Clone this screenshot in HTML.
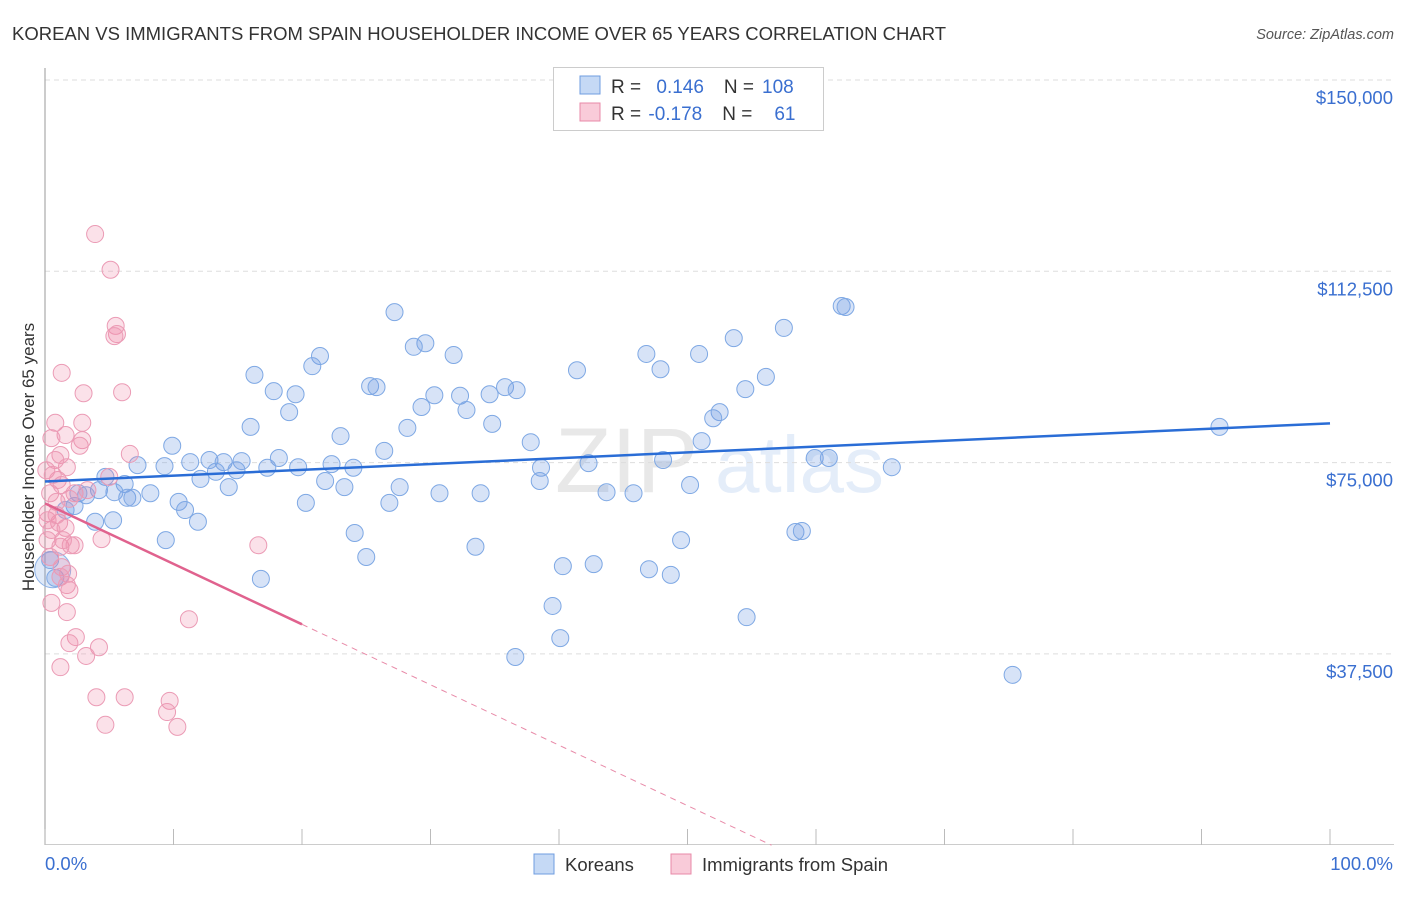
<!DOCTYPE html>
<html><head><meta charset="utf-8"><style>
body{margin:0;background:#fff;font-family:"Liberation Sans",sans-serif;}
svg text{font-family:"Liberation Sans",sans-serif;}
</style></head><body>
<svg id="chart" width="1406" height="892" viewBox="0 0 1406 892" xmlns="http://www.w3.org/2000/svg">
<text x="12" y="40" font-size="18.5" fill="#333">KOREAN VS IMMIGRANTS FROM SPAIN HOUSEHOLDER INCOME OVER 65 YEARS CORRELATION CHART</text>
<text x="1394" y="39" font-size="14.5" fill="#555" text-anchor="end" font-style="italic">Source: ZipAtlas.com</text>
<g opacity="0.13">
<text x="555" y="492" font-size="92" font-family="Liberation Serif" fill="#555">ZIP</text>
<text x="715" y="492" font-size="80" fill="#3b7ad8">atlas</text>
</g>
<g id="grid"></g>
<g id="axes"></g>
<g id="pts"></g>
<g id="trend"></g>
<text transform="translate(34,457) rotate(-90)" font-size="17" fill="#333" text-anchor="middle">Householder Income Over 65 years</text>
<g>
<rect x="553.5" y="67.5" width="270" height="63" fill="#fff" stroke="#ccc"/>
<rect x="580" y="76" width="20" height="18" fill="#c5d9f5" stroke="#6f9de0"/>
<rect x="580" y="103" width="20" height="18" fill="#f9cbd9" stroke="#e88aa8"/>
<text x="611" y="93" font-size="19" fill="#333">R = <tspan fill="#3a6fd0" dx="10">0.146</tspan><tspan fill="#333" dx="20">N =</tspan><tspan fill="#3a6fd0" dx="8">108</tspan></text>
<text x="611" y="120" font-size="19" fill="#333">R = <tspan fill="#3a6fd0" dx="2">-0.178</tspan><tspan fill="#333" dx="20">N =</tspan><tspan fill="#3a6fd0" dx="22">61</tspan></text>
</g>
<g>
<rect x="534" y="854" width="20" height="20" fill="#c5d9f5" stroke="#6f9de0"/>
<text x="565" y="871" font-size="18.5" fill="#333">Koreans</text>
<rect x="671" y="854" width="20" height="20" fill="#f9cbd9" stroke="#e88aa8"/>
<text x="702" y="871" font-size="18.5" fill="#333">Immigrants from Spain</text>
</g>
</svg>
<script>
const yTicks=[37500,75000,112500,150000];
const yTickLabels=["$37,500","$75,000","$112,500","$150,000"];
const xTickLabels=["0.0%","100.0%"];
const blueX=[27.2,62.0,62.3,57.5,53.6,29.6,28.7,31.8,21.4,46.8,50.9,20.8,47.9,41.4,56.1,16.3,25.3,25.8,35.8,36.7,17.8,19.5,30.3,32.3,34.6,54.5,29.3,32.8,19.0,52.5,52.0,91.4,34.8,28.2,16.0,23.0,9.9,37.8,51.1,26.4,59.9,61.0,48.1,7.2,9.3,11.3,12.8,13.9,15.3,18.2,17.3,19.7,22.3,24.0,38.6,42.3,65.9,13.3,14.9,12.1,14.3,4.7,6.2,4.2,3.2,2.6,5.4,6.4,8.2,21.8,23.3,27.6,38.5,50.2,30.7,33.9,43.7,45.8,20.3,26.8,10.4,10.9,2.3,1.6,6.8,3.9,5.3,11.9,24.1,49.5,58.4,58.9,9.4,33.5,25.0,40.3,42.7,47.0,48.7,16.8,39.5,54.6,40.1,36.6,75.3,0.8,0.4];
const blueY=[104.5,105.7,105.5,101.4,99.4,98.4,97.7,96.1,95.9,96.3,96.3,93.9,93.3,93.1,91.8,92.2,90.0,89.8,89.8,89.2,89.0,88.4,88.2,88.1,88.4,89.4,85.9,85.3,84.9,84.9,83.7,82.0,82.6,81.8,82.0,80.2,78.3,79.0,79.2,77.3,75.9,75.9,75.5,74.5,74.3,75.1,75.5,75.1,75.3,75.9,74.0,74.1,74.7,74.0,74.0,74.9,74.1,73.2,73.5,71.8,70.2,72.2,70.8,69.6,68.6,69.0,69.2,68.1,69.0,71.4,70.2,70.2,71.4,70.6,69.0,69.0,69.2,69.0,67.1,67.1,67.3,65.7,66.5,65.7,68.1,63.4,63.7,63.4,61.2,59.8,61.4,61.6,59.8,58.5,56.5,54.7,55.1,54.1,53.0,52.2,46.9,44.7,40.6,36.9,33.4,52.4,55.9];
const pinkX=[3.9,5.1,5.5,5.6,5.4,1.3,3.0,6.0,0.8,2.9,1.6,2.9,0.5,6.6,2.7,1.2,1.7,5.0,1.0,0.4,2.3,0.9,1.9,3.3,1.3,0.2,1.1,1.6,0.5,0.2,1.2,2.0,2.3,4.4,16.6,0.4,1.3,1.8,1.2,1.7,1.9,0.5,1.7,11.2,2.4,1.9,4.2,3.2,1.2,4.0,6.2,9.7,9.5,4.7,10.3,0.2,0.8,0.1,0.6,1.4,0.9];
const pinkY=[119.8,112.8,101.8,100.2,99.8,92.6,88.6,88.8,82.8,82.8,80.4,79.4,79.8,76.7,78.3,76.5,74.1,72.2,71.6,69.0,69.0,67.3,67.9,69.6,70.6,65.1,63.2,62.2,61.8,59.8,58.5,58.8,58.8,60.0,58.8,56.5,54.5,53.2,52.6,51.0,50.0,47.5,45.7,44.3,40.8,39.6,38.8,37.1,34.9,29.0,29.0,28.3,26.1,23.6,23.2,63.7,75.5,73.5,72.6,59.8,64.7];
const blueTrend=[71.3,82.7]; // values (k$) at x=0 and x=100
const pinkTrend=[67.0,43.3]; // values at x=0 and x=20 (solid range)
const pinkSolidEnd=20;

const NS="http://www.w3.org/2000/svg";
const X0=45,X1=1330,Y150=80,PX375=191.3;
function sx(p){return X0+(X1-X0)*p/100;}
function sy(k){return Y150+(150-k)/37.5*PX375;}
function mk(tag,attrs,parent){const e=document.createElementNS(NS,tag);for(const k in attrs)e.setAttribute(k,attrs[k]);parent.appendChild(e);return e;}
const grid=document.getElementById('grid'),axes=document.getElementById('axes');
yTicks.forEach((v,i)=>{
  const l=mk('line',{x1:X0,x2:1394,y1:sy(v/1000),y2:sy(v/1000),stroke:'#ddd','stroke-dasharray':'5,4'},grid);
  
  
  const t=mk('text',{x:1393,y:sy(v/1000)+24,'font-size':18.5,fill:'#3a6fd0','text-anchor':'end'},axes);
  t.textContent=yTickLabels[i];
  
  
});
mk('line',{x1:X0,x2:X0,y1:68,y2:845,stroke:'#aaa','stroke-width':1.2},axes);
mk('line',{x1:X0,x2:1394,y1:844.5,y2:844.5,stroke:'#ccc'},axes);
for(let i=0;i<=10;i++){const x=sx(i*10);mk('line',{x1:x,x2:x,y1:829,y2:845,stroke:'#bbb'},axes);}
const tl0=mk('text',{x:45,y:870,'font-size':18.5,fill:'#3a6fd0'},axes);tl0.textContent=xTickLabels[0];


const tl1=mk('text',{x:1393,y:870,'font-size':18.5,fill:'#3a6fd0','text-anchor':'end'},axes);tl1.textContent=xTickLabels[1];


const pts=document.getElementById('pts');
mk('circle',{cx:sx(0.6),cy:sy(54),r:18,fill:'rgba(110,155,225,0.22)',stroke:'#8cb2e8'},pts);
blueX.forEach((x,i)=>{const c=mk('circle',{cx:sx(x),cy:sy(blueY[i]),r:8.5,fill:'rgba(110,155,225,0.28)',stroke:'#7ea8e4','stroke-width':1},pts);
  
  });
pinkX.forEach((x,i)=>{const c=mk('circle',{cx:sx(x),cy:sy(pinkY[i]),r:8.5,fill:'rgba(240,140,170,0.26)',stroke:'#eb9bb5','stroke-width':1},pts);
  
  });
const tr=document.getElementById('trend');
const bl=mk('line',{x1:sx(0),y1:sy(blueTrend[0]),x2:sx(100),y2:sy(blueTrend[1]),stroke:'#2a6dd6','stroke-width':2.5},tr);


const slope=(pinkTrend[1]-pinkTrend[0])/pinkSolidEnd;
const pl=mk('line',{x1:sx(0),y1:sy(pinkTrend[0]),x2:sx(pinkSolidEnd),y2:sy(pinkTrend[1]),stroke:'#e0628e','stroke-width':2.5},tr);


const xEnd=-pinkTrend[0]/slope;
const pd=mk('line',{x1:sx(pinkSolidEnd),y1:sy(pinkTrend[1]),x2:sx(xEnd),y2:sy(0),stroke:'#e88aa8','stroke-width':1,'stroke-dasharray':'6,5'},tr);


</script>
</body></html>
